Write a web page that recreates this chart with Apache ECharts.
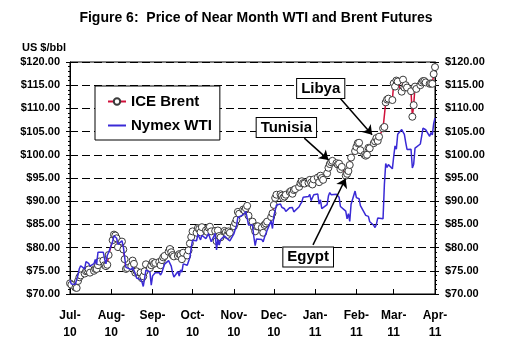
<!DOCTYPE html>
<html><head><meta charset="utf-8">
<script src="https://cdn.jsdelivr.net/npm/echarts@6/dist/echarts.min.js"></script>
<style>html,body{margin:0;padding:0;background:#fff}#c{width:512px;height:355px}</style>
</head><body><div id="c"></div>
<script>
const FONT = '"Liberation Sans", Arial, Helvetica, sans-serif';
const monthNames = ['Jan','Feb','Mar','Apr','May','Jun','Jul','Aug','Sep','Oct','Nov','Dec'];
const firstDay = '2010-07-01';
const lastDay = '2011-04-01';
const yMin = 70, yMax = 120, yStep = 5;

// ICE Brent, near month (US $/bbl), one value per weekday
const brentJul10 = [72.3, 72.0, 71.4, 71.3, 72.8, 73.6, 74.0, 74.4, 74.9, 75.0, 75.3, 74.6, 75.0, 75.4, 75.4, 76.2, 77.0, 77.2, 76.2, 76.0, 76.3, 78.4];
const brentAug10 = [81.6, 82.8, 82.6, 82.0, 80.1, 81.3, 79.6, 77.5, 75.4, 75.6, 76.0, 77.2, 76.5, 74.6, 74.9, 74.6, 73.4, 73.8, 74.9, 76.4, 75.6, 76.2];
const brentSep10 = [76.9, 76.5, 76.7, 76.9, 76.2, 77.3, 77.9, 78.2, 79.1, 79.7, 79.0, 78.4, 78.1, 78.2, 78.6, 78.4, 77.5, 78.9, 78.3, 79.4, 80.9, 82.3];
const brentOct10 = [83.5, 83.2, 84.2, 84.0, 83.3, 84.4, 83.7, 83.4, 84.3, 84.5, 83.5, 83.6, 81.4, 83.7, 82.5, 82.2, 83.6, 83.3, 82.7, 83.5, 83.2];
const brentNov10 = [84.6, 85.3, 86.0, 87.7, 87.3, 88.2, 88.0, 88.5, 89.0, 86.9, 85.6, 84.4, 83.5, 84.6, 84.6, 84.3, 83.2, 84.9, 85.2, 85.6, 86.6, 87.4];
const brentDec10 = [89.2, 90.7, 91.4, 91.5, 91.2, 90.7, 91.0, 91.4, 92.0, 92.2, 91.6, 92.4, 92.6, 93.1, 93.9, 94.3, 93.9, 93.8, 94.0, 94.6, 94.0, 93.6, 94.7];
const brentJan11 = [95.1, 94.1, 95.5, 95.0, 94.6, 96.0, 97.2, 98.0, 98.4, 98.7, 98.2, 97.9, 98.1, 96.9, 97.4, 95.5, 95.9, 96.5, 97.8, 99.4, 100.8];
const brentFeb11 = [101.7, 102.5, 102.6, 101.0, 100.0, 99.8, 100.0, 101.5, 101.4, 102.5, 102.9, 103.6, 103.0, 103.9, 105.7, 106.0, 111.3, 111.9, 112.1, 111.8];
const brentMar11 = [115.4, 114.7, 116.0, 115.8, 113.6, 116.2, 114.5, 115.0, 114.5, 113.7, 108.2, 110.7, 114.7, 114.2, 115.0, 115.6, 115.9, 115.9, 115.6, 115.3, 115.4, 115.3, 117.4];
const brentApr11 = [118.9];

// Nymex WTI, near month (US $/bbl), one value per weekday
const wtiJul10 = [72.95, 72.14, 72.1, 71.98, 74.07, 75.45, 76.09, 75.43, 77.00, 77.04, 76.62, 76.01, 76.54, 77.42, 76.37, 79.00, 78.98, 78.98, 77.50, 76.49, 78.36, 78.95];
const wtiAug10 = [81.34, 82.55, 82.49, 82.01, 80.70, 81.48, 80.25, 78.02, 75.74, 75.39, 75.24, 75.77, 75.42, 74.43, 73.46, 73.10, 72.63, 71.63, 73.36, 75.17, 74.70, 71.92];
const wtiSep10 = [73.91, 74.02, 74.60, 74.6, 74.09, 74.67, 74.25, 76.45, 77.19, 76.80, 76.02, 74.57, 73.66, 74.86, 73.86, 75.18, 74.71, 76.49, 76.18, 76.18, 77.86, 79.97];
const wtiOct10 = [81.58, 81.47, 82.82, 83.23, 81.67, 82.66, 81.95, 81.67, 83.01, 82.69, 81.25, 83.08, 79.49, 81.77, 80.56, 81.69, 82.52, 82.55, 81.94, 82.18, 81.43];
const wtiNov10 = [82.95, 83.90, 84.69, 86.49, 86.85, 87.06, 86.72, 87.81, 87.81, 84.88, 84.86, 82.34, 80.44, 81.85, 81.51, 81.74, 81.25, 82.21, 82.2, 83.76, 85.73, 84.11];
const wtiDec10 = [86.75, 88.00, 89.19, 89.38, 88.69, 88.28, 88.37, 87.79, 88.61, 88.28, 88.62, 87.70, 88.02, 88.81, 89.37, 89.82, 90.83, 90.8, 91.00, 91.49, 90.12, 89.84, 91.38];
const wtiJan11 = [91.55, 89.38, 90.30, 88.38, 88.03, 89.25, 91.11, 91.86, 91.40, 91.54, 91.5, 91.38, 90.86, 88.86, 89.11, 87.87, 86.19, 87.33, 85.64, 89.34, 92.19];
const wtiFeb11 = [90.77, 90.86, 90.54, 89.03, 87.48, 86.94, 86.71, 86.73, 85.58, 84.81, 84.32, 84.99, 86.36, 86.20, 86.2, 93.57, 98.10, 97.28, 97.88, 96.97];
const wtiMar11 = [99.63, 101.91, 101.23, 104.42, 105.44, 105.02, 104.38, 102.70, 101.16, 101.19, 97.18, 97.98, 101.42, 101.07, 102.33, 104.00, 105.75, 105.60, 105.40, 103.98, 104.79, 104.27, 106.72];
const wtiApr11 = [107.94];

// Annotations (label anchor and arrow ends, in data coordinates)
const noteNames = ['Libya', 'Tunisia', 'Egypt'];
const noteBoxAt = [['2011-01-05T05:00', 114.3], ['2010-12-10T10:00', 105.9], ['2010-12-26T19:00', 78.0]];
const noteArrowFrom = [['2011-01-19T19:00', 112.2], ['2010-12-23T21:00', 103.6], ['2010-12-30T10:00', 80.6]];
const noteArrowTo = [['2011-02-12T19:00', 104.3], ['2011-01-11T01:00', 98.9], ['2011-01-23T22:00', 94.9]];

const brent = [].concat(brentJul10, brentAug10, brentSep10, brentOct10, brentNov10, brentDec10, brentJan11, brentFeb11, brentMar11, brentApr11);
const wti = [].concat(wtiJul10, wtiAug10, wtiSep10, wtiOct10, wtiNov10, wtiDec10, wtiJan11, wtiFeb11, wtiMar11, wtiApr11);

function weekdays(from, to) {
  const out = [];
  let d = new Date(from + 'T00:00:00Z');
  const e = new Date(to + 'T00:00:00Z');
  while (d <= e) {
    const w = d.getUTCDay();
    if (w !== 0 && w !== 6) out.push(d.toISOString().slice(0, 10));
    d = new Date(d.getTime() + 86400000);
  }
  return out;
}
const dates = weekdays(firstDay, lastDay);
const t = s => new Date(s.length === 10 ? s + 'T00:00' : s).getTime();

const chart = echarts.init(document.getElementById('c'), null, {renderer: 'canvas'});
const yLabel = {
  formatter: v => '$' + v.toFixed(2), color: '#000', fontWeight: 'bold',
  fontSize: 11, fontFamily: FONT, margin: 10
};
const baseY = {type: 'value', min: yMin, max: yMax, interval: yStep};
chart.setOption({
  animation: false,
  backgroundColor: '#fff',
  title: [
    {text: 'Figure 6:  Price of Near Month WTI and Brent Futures', left: 'center', top: 6,
     textStyle: {fontSize: 14, fontWeight: 'bold', fontFamily: FONT, color: '#000'}},
    {text: 'US $/bbl', left: 17, top: 37,
     textStyle: {fontSize: 11, fontWeight: 'bold', fontFamily: FONT, color: '#000'}}
  ],
  grid: {left: 70, right: 77, top: 62, bottom: 61, show: true, borderColor: '#000', borderWidth: 1, backgroundColor: 'transparent'},
  legend: {
    left: 95, top: 86, orient: 'vertical',
    data: [{name: 'ICE Brent'}, {name: 'Nymex WTI', itemStyle: {opacity: 0}}],
    backgroundColor: '#fff', borderColor: '#000', borderWidth: 1, borderRadius: 0,
    padding: [8, 8, 7, 12], itemGap: 9, itemWidth: 18, itemHeight: 8,
    textStyle: {fontFamily: FONT, fontSize: 15, fontWeight: 'bold', color: '#000'},
    z: 10
  },
  xAxis: {
    type: 'time', min: t(firstDay), max: t(lastDay),
    splitNumber: 9, minInterval: 27 * 86400000, maxInterval: 32 * 86400000,
    axisLine: {lineStyle: {color: '#000', width: 1}},
    axisTick: {show: true, inside: true, length: 5, lineStyle: {color: '#000'}},
    splitLine: {show: false},
    axisLabel: {
      formatter: v => { const d = new Date(v); return monthNames[d.getMonth()] + '-\n' + String(d.getFullYear()).slice(2); },
      color: '#000', fontWeight: 'bold', fontSize: 12, fontFamily: FONT, lineHeight: 17, margin: 13,
      showMinLabel: true, showMaxLabel: true, hideOverlap: false
    }
  },
  yAxis: [
    Object.assign({}, baseY, {
      position: 'left',
      axisLine: {show: true, lineStyle: {color: '#000'}},
      axisTick: {show: true, length: 4, lineStyle: {color: '#000'}},
      minorTick: {show: true, splitNumber: 5, length: 2, lineStyle: {color: '#000'}},
      splitLine: {show: true, lineStyle: {color: '#000', type: [8, 4], width: 1}},
      axisLabel: yLabel
    }),
    Object.assign({}, baseY, {
      position: 'right',
      axisLine: {show: true, lineStyle: {color: '#000'}},
      axisTick: {show: true, length: 4, lineStyle: {color: '#000'}},
      minorTick: {show: true, splitNumber: 5, length: 2, lineStyle: {color: '#000'}},
      splitLine: {show: false},
      axisLabel: yLabel
    }),
    Object.assign({}, baseY, {
      position: 'left', axisLine: {show: false}, axisLabel: {show: false}, splitLine: {show: false},
      axisTick: {show: true, inside: true, length: 4, lineStyle: {color: '#000'}}
    }),
    Object.assign({}, baseY, {
      position: 'right', axisLine: {show: false}, axisLabel: {show: false}, splitLine: {show: false},
      axisTick: {show: true, inside: true, length: 4, lineStyle: {color: '#000'}}
    })
  ],
  series: [
    {
      name: 'ICE Brent', type: 'line', yAxisIndex: 0,
      data: dates.map((d, i) => [t(d), brent[i]]),
      symbol: 'circle', symbolSize: 7, showSymbol: true, showAllSymbol: true,
      itemStyle: {color: '#fff', borderColor: '#3a3a3a', borderWidth: 1},
      lineStyle: {color: '#d0103a', width: 1.5},
      z: 2
    },
    {
      name: 'Nymex WTI', type: 'line', yAxisIndex: 0,
      data: dates.map((d, i) => [t(d), wti[i]]),
      symbol: 'none', showSymbol: false,
      itemStyle: {color: '#3a2ad6'},
      lineStyle: {color: '#3a2ad6', width: 1.5},
      z: 3,
      markLine: {
        silent: true, animation: false,
        symbol: ['none', 'arrow'], symbolSize: 9,
        lineStyle: {color: '#000', width: 1.5, type: 'solid'},
        label: {show: false},
        data: noteNames.map((n, i) => [
          {coord: [t(noteArrowFrom[i][0]), noteArrowFrom[i][1]]},
          {coord: [t(noteArrowTo[i][0]), noteArrowTo[i][1]]}
        ])
      },
      markPoint: {
        silent: true, animation: false,
        symbol: 'rect', symbolSize: 1, itemStyle: {color: 'rgba(0,0,0,0)'},
        label: {
          show: true, position: 'inside', formatter: p => p.name,
          backgroundColor: '#fff', borderColor: '#000', borderWidth: 1,
          padding: [2, 4, 1, 4], lineHeight: 16,
          color: '#000', fontWeight: 'bold', fontSize: 15, fontFamily: FONT
        },
        data: noteNames.map((n, i) => ({name: n, coord: [t(noteBoxAt[i][0]), noteBoxAt[i][1]]}))
      }
    }
  ]
});
</script>
</body></html>
